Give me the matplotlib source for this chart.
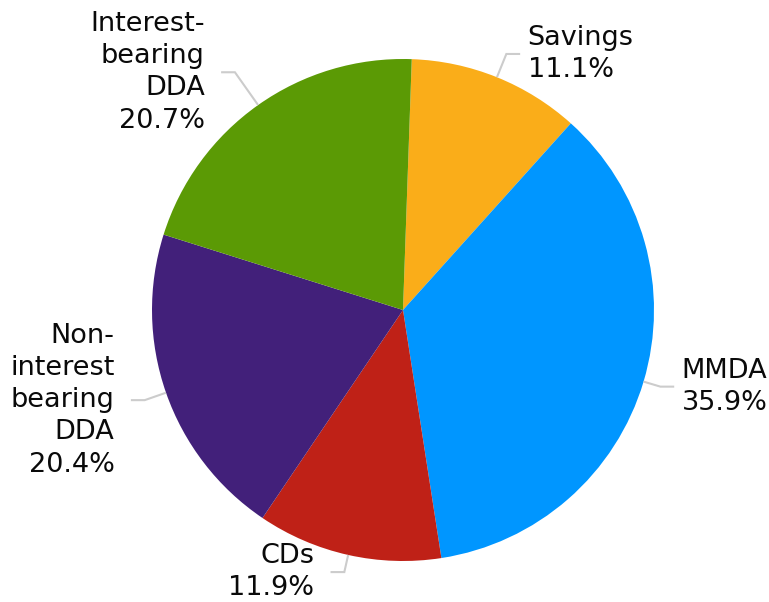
import numpy as np
import matplotlib.pyplot as plt

LABELS = ["Savings", "MMDA", "CDs", "Non-\ninterest\nbearing\nDDA", "Interest-\nbearing\nDDA"]
SHARES = [11.1, 35.9, 11.9, 20.4, 20.7]
COLORS = ["#FAAD19", "#0096FF", "#BF2117", "#42207A", "#5B9A05"]

# distance du coude de la ligne de rappel (en rayons)
ELBOW = [1.10, 1.07, 1.07, 1.09, 1.16]

W, H = 769, 602
CX, CY, R = 403, 310, 251

fig = plt.figure(figsize=(W / 100, H / 100), dpi=100)
ax = fig.add_axes([0, 0, 1, 1])
ax.axis("off")

wedges, _ = ax.pie(SHARES, colors=COLORS, startangle=88, counterclock=False,
                   radius=1, wedgeprops=dict(linewidth=0))
ax.set_xlim(-CX / R, (W - CX) / R)
ax.set_ylim(-(H - CY) / R, CY / R)
ax.set_aspect("auto")

for w, lab, val, el in zip(wedges, LABELS, SHARES, ELBOW):
    a = np.deg2rad((w.theta1 + w.theta2) / 2)
    x1, y1 = np.cos(a), np.sin(a)
    x2, y2 = el * x1, el * y1
    s = 1 if x1 >= 0 else -1
    x3 = x2 + s * 0.055
    ax.plot([x1, x2, x3], [y1, y2, y2], color="#CCCCCC", lw=1.5,
            solid_capstyle="butt", solid_joinstyle="miter")
    gap = 0.03 if s > 0 else 0.065
    ax.text(x3 + s * gap, y2, f"{lab}\n{val:.1f}%",
            ha="left" if s > 0 else "right", va="center",
            multialignment="left" if s > 0 else "right", linespacing=1.31,
            fontsize=19.5, color="#0A0A0A", family="DejaVu Sans")

fig.savefig("out.png", dpi=100)
